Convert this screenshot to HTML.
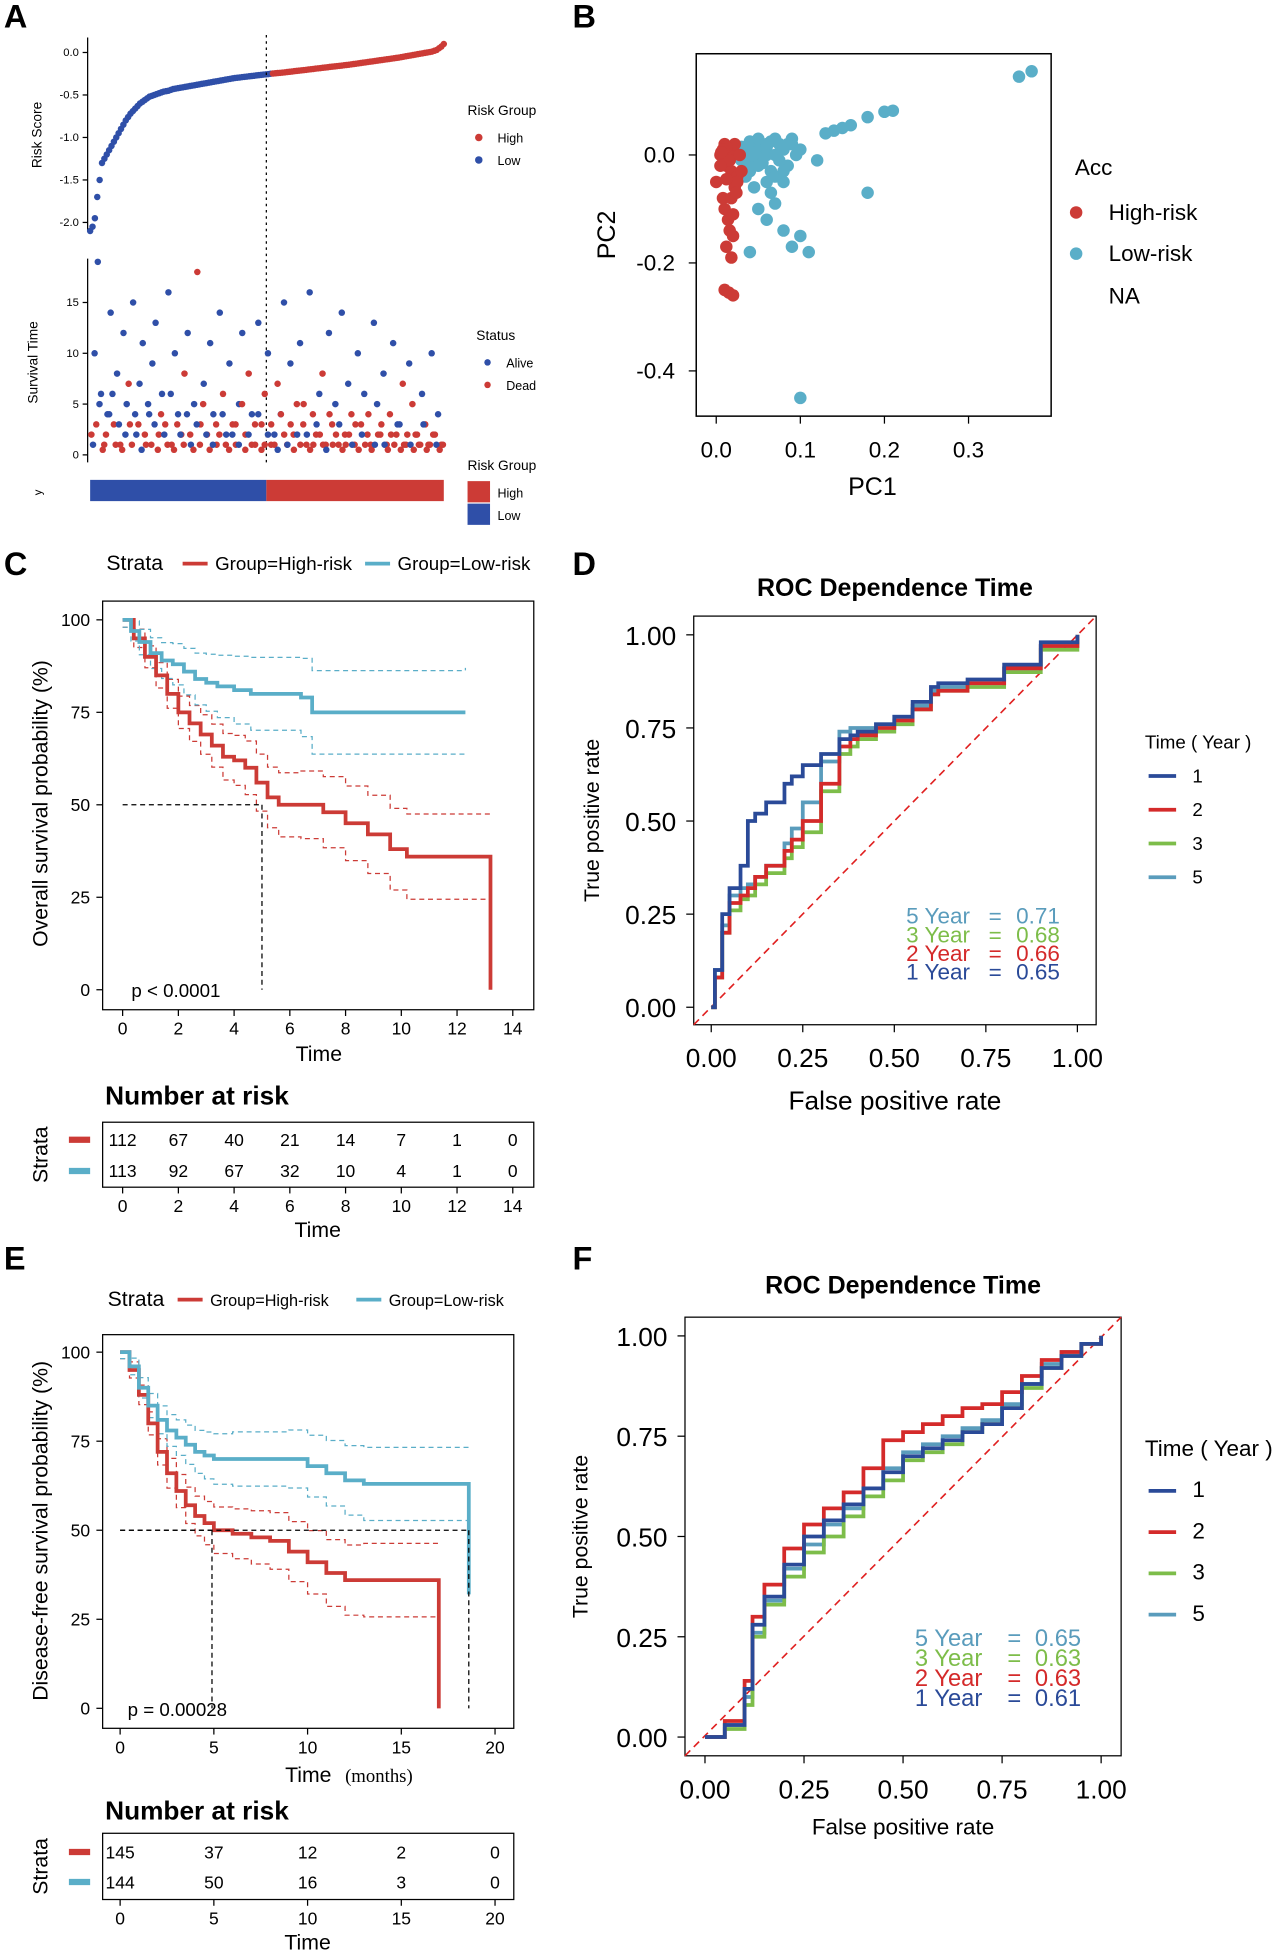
<!DOCTYPE html>
<html><head><meta charset="utf-8"><style>
html,body{margin:0;padding:0;background:#fff;}
svg{display:block;font-family:"Liberation Sans",Arial,sans-serif;}
</style></head><body>
<svg id="fig" width="1280" height="1957" viewBox="0 0 1024 1566" xmlns="http://www.w3.org/2000/svg"></svg>
<script>
// ---------- DATA ----------
const riskLow=[-2.1,-2.05,-1.95,-1.7,-1.5,-1.3,-1.25,-1.2,-1.15,-1.1,-1.05,-1.0,-0.95,-0.9,-0.85,-0.8,-0.76,-0.72,-0.69,-0.66,-0.63,-0.6,-0.58,-0.56,-0.54,-0.52,-0.51,-0.5,-0.49,-0.48,-0.47,-0.46,-0.455,-0.45,-0.44,-0.43,-0.425,-0.42,-0.415,-0.41,-0.405,-0.4,-0.395,-0.39,-0.385,-0.38,-0.375,-0.37,-0.365,-0.36,-0.355,-0.35,-0.345,-0.34,-0.335,-0.33,-0.325,-0.32,-0.315,-0.31,-0.305,-0.3,-0.297,-0.294,-0.29,-0.287,-0.284,-0.28,-0.277,-0.274,-0.27,-0.267,-0.264,-0.26,-0.257,-0.254,-0.25];
const riskHigh=[-0.248,-0.245,-0.242,-0.24,-0.237,-0.234,-0.23,-0.227,-0.224,-0.22,-0.217,-0.214,-0.21,-0.207,-0.204,-0.2,-0.197,-0.194,-0.19,-0.187,-0.184,-0.18,-0.177,-0.174,-0.17,-0.167,-0.164,-0.16,-0.157,-0.154,-0.15,-0.147,-0.144,-0.14,-0.136,-0.132,-0.128,-0.124,-0.12,-0.116,-0.112,-0.108,-0.104,-0.1,-0.096,-0.092,-0.088,-0.084,-0.08,-0.076,-0.072,-0.068,-0.064,-0.06,-0.055,-0.05,-0.045,-0.04,-0.035,-0.03,-0.025,-0.02,-0.015,-0.01,-0.005,0.0,0.005,0.01,0.02,0.03,0.05,0.07,0.1];
const survTime=[2,10,19,6,1,4,14,3,8,1,12,5,3,15,2,7,11,1,4,9,13,2,6,3,16,1,10,4,2,8,12,1,5,18,3,7,2,11,4,1,14,6,2,9,3,1,5,12,2,8,4,1,13,3,6,10,1,2,7,4,15,1,9,2,5,11,3,1,16,4,2,6,8,1,12,3,5,1,14,2,7,4,1,10,3,6,2,1,13,5,2,8,1,4,11,2,3,7,1,9,5,2,1,6,3,1,10,2,4,1];
const survTime2=[1,3,5,0.5,2,4,6,1,3,0.5,2,7,1,4,3,0.5,2,5,1,3,0.5,4,2,1,6,0.5,3,2,1,4,2,0.5,3,1,5,2,0.5,1,3,2,4,1,0.5,2,3,1,5,0.5,2,1,3,4,0.5,1,2,3,1,0.5,4,2,1,3,0.5,2,1,5,2,0.5,1,3,2,1,0.5,4,1,2,3,0.5,1,2,1,3,0.5,2,1,4,0.5,1,2,3,1,0.5,2,1,3,0.5,1,2,1,0.5,2,1,3,0.5,1,2,1,0.5,1];
const survDead=[1,0,0,0,1,0,0,1,0,1,0,0,1,0,0,0,0,1,0,0,0,1,0,1,0,1,0,0,1,1,0,0,0,1,1,0,1,0,0,1,0,1,0,0,1,1,0,0,1,1,0,1,0,1,1,0,1,0,1,0,0,1,0,1,1,0,1,1,0,1,1,0,1,1,0,1,0,1,0,1,0,1,1,0,1,0,1,1,0,0,1,0,1,1,0,1,0,1,1,0,1,1,1,0,1,1,0,1,0,1];
const survDead2=[0,1,0,1,1,0,0,1,0,1,0,1,1,0,1,0,1,0,1,0,1,1,0,1,0,1,1,0,1,0,1,1,0,1,1,0,1,0,1,1,0,1,1,0,1,0,1,1,0,1,1,0,1,1,0,1,1,0,1,1,0,1,1,0,1,1,0,1,1,0,1,1,0,1,1,1,0,1,1,1,0,1,1,0,1,1,1,0,1,1,0,1,1,1,0,1,1,1,0,1,1,1,0,1,1,1,0,1,1,1];
const pcaHighX=[0.0,0.005,0.01,0.012,0.015,0.018,0.02,0.022,0.025,0.008,0.01,0.014,0.016,0.02,0.012,0.018,0.01,0.015,0.02,0.022,0.012,0.016,0.018,0.025,0.03,0.028,0.005,0.008,0.012,0.02,0.024,0.006];
const pcaHighY=[-0.05,0.0,0.02,-0.02,0.01,-0.03,0.0,-0.06,-0.04,-0.08,-0.1,-0.12,-0.14,-0.15,-0.17,-0.19,-0.25,-0.255,-0.26,0.02,0.015,-0.01,-0.08,-0.05,-0.03,0.0,-0.02,0.01,-0.045,-0.11,-0.07,0.005];
const pcaLowX=[0.03,0.035,0.04,0.045,0.05,0.055,0.06,0.065,0.07,0.075,0.08,0.085,0.09,0.1,0.12,0.13,0.14,0.15,0.16,0.18,0.2,0.21,0.18,0.1,0.08,0.06,0.05,0.04,0.035,0.045,0.07,0.09,0.11,0.36,0.375,0.1,0.03,0.04,0.05,0.06,0.07,0.08,0.09,0.035,0.045,0.055,0.065,0.075,0.085,0.095,0.04,0.05,0.06,0.07,0.08,0.03,0.04,0.05,0.06,0.065];
const pcaLowY=[0.0,0.01,0.02,-0.01,0.02,0.01,0.0,-0.03,0.03,0.02,-0.05,-0.02,0.02,0.01,-0.01,0.04,0.045,0.05,0.055,0.07,0.08,0.082,-0.07,-0.15,-0.14,-0.12,-0.1,-0.18,-0.04,-0.06,-0.09,-0.17,-0.18,0.145,0.155,-0.45,0.015,0.0,-0.005,0.015,0.0,0.01,0.03,-0.02,0.005,-0.015,0.025,-0.01,0.02,0.0,-0.03,-0.02,-0.05,-0.04,-0.03,-0.01,0.025,0.03,0.02,-0.07];
// KM panel C
const cHighT=[0,0.4,0.8,1.2,1.6,2,2.4,2.8,3.2,3.6,4,4.4,4.8,5.2,5.6,6.4,7.2,8,8.8,9.6,10.2,13.2];
const cHighS=[100,95,90,85,80,75,72,69,66,63,62,60,56,52,50,50,48,45,42,38,36,36];
const cLowT=[0,0.3,0.6,1,1.4,1.8,2.2,2.6,3,3.4,4,4.6,6.4,6.8,12.3];
const cLowS=[100,97,94,91,89,88,86,84,83,82,81,80,79,75,75];
// KM panel E
const eHighT=[0,0.5,1,1.5,2,2.5,3,3.5,4,4.5,5,6,7,8,9,10,11,12,13,17];
const eHighS=[100,95,88,80,72,66,61,57,54,52,50,49,48,47,44,41,38,36,36,36];
const eLowT=[0,0.5,1,1.5,2,2.5,3,3.5,4,4.5,5,6,9,10,11,12,13,18.6];
const eLowS=[100,96,90,85,81,78,76,74,72,71,70,70,70,68,66,64,63,63];
// ROC panel D
const dFpr=[0,0.01,0.03,0.05,0.08,0.1,0.12,0.15,0.2,0.22,0.25,0.3,0.35,0.38,0.4,0.45,0.5,0.55,0.6,0.62,0.7,0.8,0.9,1];
const d1=[0,0.1,0.25,0.32,0.38,0.5,0.52,0.55,0.6,0.62,0.65,0.68,0.72,0.73,0.74,0.76,0.78,0.82,0.86,0.87,0.88,0.92,0.98,1];
const d2=[0,0.08,0.2,0.28,0.3,0.32,0.35,0.38,0.42,0.45,0.5,0.6,0.7,0.72,0.73,0.75,0.77,0.8,0.84,0.85,0.87,0.91,0.97,1];
const d3=[0,0.08,0.2,0.26,0.29,0.3,0.33,0.36,0.4,0.43,0.47,0.58,0.68,0.7,0.72,0.74,0.76,0.8,0.84,0.85,0.86,0.9,0.96,1];
const d5=[0,0.1,0.22,0.3,0.32,0.33,0.35,0.38,0.44,0.48,0.55,0.66,0.74,0.75,0.75,0.76,0.78,0.81,0.85,0.86,0.87,0.91,0.97,1];
// ROC panel F
const fFpr=[0,0.05,0.1,0.12,0.15,0.2,0.25,0.3,0.35,0.4,0.45,0.5,0.55,0.6,0.65,0.7,0.75,0.8,0.85,0.9,0.95,1];
const f1=[0,0.03,0.12,0.28,0.35,0.43,0.5,0.54,0.58,0.62,0.66,0.7,0.72,0.74,0.76,0.78,0.82,0.88,0.92,0.95,0.98,1];
const f2=[0,0.04,0.14,0.3,0.38,0.47,0.53,0.57,0.61,0.67,0.74,0.76,0.78,0.8,0.82,0.83,0.86,0.9,0.94,0.96,0.98,1];
const f3=[0,0.02,0.08,0.25,0.33,0.4,0.46,0.5,0.55,0.6,0.64,0.69,0.71,0.73,0.76,0.78,0.82,0.87,0.92,0.95,0.98,1];
const f5=[0,0.03,0.1,0.26,0.34,0.42,0.48,0.53,0.57,0.62,0.67,0.71,0.73,0.75,0.77,0.79,0.83,0.88,0.93,0.96,0.98,1];
const cRiskHigh=["112","67","40","21","14","7","1","0"];
const cRiskLow=["113","92","67","32","10","4","1","0"];
const eRiskHigh=["145","37","12","2","0"];
const eRiskLow=["144","50","16","3","0"];

// ---------- HELPERS ----------
const NS="http://www.w3.org/2000/svg";
const svg=document.getElementById('fig');
function el(tag,attrs,parent){const e=document.createElementNS(NS,tag);for(const k in attrs)e.setAttribute(k,attrs[k]);(parent||svg).appendChild(e);return e;}
function txt(x,y,s,size,opts){opts=opts||{};const t=el('text',{x:x,y:y,'font-size':size,fill:opts.fill||'#000','text-anchor':opts.anchor||'start'});
 if(opts.weight)t.setAttribute('font-weight',opts.weight);
 if(opts.rot)t.setAttribute('transform','rotate(-90 '+x+' '+y+')');
 if(opts.family)t.setAttribute('font-family',opts.family);
 t.textContent=s;return t;}
const RED='#cc3b36', BLUE='#2f4fa8', CYAN='#5aaec8';

[['A',3,22],['B',458,22],['C',3,460],['D',458,460],['E',3,1016],['F',458,1016]].forEach(p=>{const t=txt(p[1],p[2],p[0],26,{weight:'bold'});

});

// ---------- PANEL A ----------
(function(){
 const g=el('g',{});
 
 
 const ys=v=>42+(-v)*68;
 el('line',{x1:70,y1:30,x2:70,y2:185,stroke:'#000'},g);
 [0,-0.5,-1,-1.5,-2].forEach(v=>{el('line',{x1:66,y1:ys(v),x2:70,y2:ys(v),stroke:'#000'},g);
  txt(63,ys(v)+3,v.toFixed(1),9,{anchor:'end'});});
 txt(33,108,'Risk Score',11,{rot:1,anchor:'middle'});
 const all=riskLow.concat(riskHigh),n=all.length;
 all.forEach((v,i)=>{const c=el('circle',{cx:72+i*(283/(n-1)),cy:ys(v),r:2.6,fill:i<riskLow.length?BLUE:RED},g);
  
  });
 el('line',{x1:213,y1:28,x2:213,y2:372,stroke:'#000','stroke-dasharray':'2,3'},g);
 txt(374,92,'Risk Group',11);
 el('circle',{cx:383,cy:110,r:3,fill:RED});txt(398,114,'High',10);
 el('circle',{cx:383,cy:128,r:3,fill:BLUE});txt(398,132,'Low',10);
 const g2=el('g',{});
 
 
 const ty=v=>364-v*8.13;
 el('line',{x1:70,y1:207,x2:70,y2:370,stroke:'#000'},g2);
 [0,5,10,15].forEach(v=>{el('line',{x1:66,y1:ty(v),x2:70,y2:ty(v),stroke:'#000'},g2);txt(63,ty(v)+3,String(v),9,{anchor:'end'});});
 txt(30,290,'Survival Time',11,{rot:1,anchor:'middle'});
 [[survTime,survDead,0],[survTime2,survDead2,1.3]].forEach(set=>{
  const m=set[0].length;
  set[0].forEach((v,i)=>{const c=el('circle',{cx:73+set[2]+i*(280/(m-1)),cy:ty(v),r:2.6,fill:set[1][i]?RED:BLUE},g2);
   
   });
 });
 txt(381,272,'Status',11);
 el('circle',{cx:390,cy:290,r:2.6,fill:BLUE});txt(405,294,'Alive',10);
 el('circle',{cx:390,cy:308,r:2.6,fill:RED});txt(405,312,'Dead',10);
 const hb=el('rect',{x:72,y:384,width:141,height:17,fill:BLUE});
 
 
 const hb2=el('rect',{x:213,y:384,width:142,height:17,fill:RED});
 
 
 txt(33,394,'y',9,{rot:1,anchor:'middle'});
 txt(374,376,'Risk Group',11);
 el('rect',{x:374,y:385,width:18,height:17,fill:RED});txt(398,398,'High',10);
 el('rect',{x:374,y:403,width:18,height:17,fill:BLUE});txt(398,416,'Low',10);
})();

// ---------- PANEL B ----------
(function(){
 const g=el('g',{});
 
 
 const X=v=>573+v*673, Y=v=>124-v*432;
 el('rect',{x:557,y:43,width:284,height:290,fill:'none',stroke:'#000','stroke-width':1.2},g);
 [0,0.1,0.2,0.3].forEach(v=>{el('line',{x1:X(v),y1:333,x2:X(v),y2:339,stroke:'#000'},g);txt(X(v),366,v.toFixed(1),18,{anchor:'middle'});});
 [0,-0.2,-0.4].forEach(v=>{el('line',{x1:551,y1:Y(v),x2:557,y2:Y(v),stroke:'#000'},g);txt(540,Y(v)+6,v.toFixed(1),18,{anchor:'end'});});
 txt(698,396,'PC1',20,{anchor:'middle'});
 txt(492,188,'PC2',20,{rot:1,anchor:'middle'});
 pcaLowX.forEach((v,i)=>{const c=el('circle',{cx:X(v),cy:Y(pcaLowY[i]),r:5,fill:CYAN},g);
  
  });
 pcaHighX.forEach((v,i)=>{const c=el('circle',{cx:X(v),cy:Y(pcaHighY[i]),r:5,fill:RED},g);
  
  });
 txt(860,140,'Acc',18);
 el('circle',{cx:861,cy:170,r:5,fill:RED});txt(887,176,'High-risk',18);
 el('circle',{cx:861,cy:203,r:5,fill:CYAN});txt(887,209,'Low-risk',18);
 txt(887,243,'NA',18);
})();

// ---------- KM helper ----------
function stepPath(T,S,X,Y){let d='M'+X(T[0])+','+Y(S[0]);for(let i=1;i<T.length;i++){d+=' H'+X(T[i])+' V'+Y(S[i]);}return d;}
function km(cfg){
 const g=el('g',{});
 
 
 const b=cfg.box;
 const X=t=>cfg.x0+t*cfg.xs, Y=s=>cfg.y100+(100-s)*cfg.ys;
 el('rect',{x:b[0],y:b[1],width:b[2]-b[0],height:b[3]-b[1],fill:'none',stroke:'#000'},g);
 cfg.xt.forEach(v=>{el('line',{x1:X(v),y1:b[3],x2:X(v),y2:b[3]+5,stroke:'#000'},g);txt(X(v),b[3]+20,String(v),14,{anchor:'middle'});});
 [0,25,50,75,100].forEach(v=>{el('line',{x1:b[0]-5,y1:Y(v),x2:b[0],y2:Y(v),stroke:'#000'},g);txt(b[0]-10,Y(v)+5,String(v),14,{anchor:'end'});});
 [[cfg.hT,cfg.hS,RED],[cfg.lT,cfg.lS,CYAN]].forEach(a=>{
  [cfg.ci,-cfg.ci].forEach(off=>{const S=a[1].map((s,i)=>Math.max(0,Math.min(100,s+off*(i/(a[1].length-1)+0.2))));
   const p=el('path',{d:stepPath(a[0],S,X,Y),fill:'none',stroke:a[2],'stroke-dasharray':'4,3','stroke-width':1},g);
   
   });
 });
 const ph=el('path',{d:stepPath(cfg.hT,cfg.hS,X,Y)+(cfg.hDrop?' V'+Y(0):''),fill:'none',stroke:RED,'stroke-width':3},g);
 
 
 const pl=el('path',{d:stepPath(cfg.lT,cfg.lS,X,Y)+(cfg.lDrop?' V'+Y(cfg.lDrop):''),fill:'none',stroke:CYAN,'stroke-width':3},g);
 
 
 cfg.med.forEach(m=>{el('line',{x1:X(0),y1:Y(50),x2:X(m),y2:Y(50),stroke:'#000','stroke-dasharray':'4,3'},g);
  el('line',{x1:X(m),y1:Y(50),x2:X(m),y2:Y(0),stroke:'#000','stroke-dasharray':'4,3'},g);});
 txt(cfg.pText[0],cfg.pText[1],cfg.pText[2],15);
 txt(cfg.ylab[0],cfg.ylab[1],cfg.ylab[2],17,{rot:1,anchor:'middle'});
 const L=cfg.leg;
 txt(L[0],L[1],'Strata',17);
 el('line',{x1:L[2],y1:L[1]-5,x2:L[2]+20,y2:L[1]-5,stroke:RED,'stroke-width':3});
 txt(L[2]+26,L[1],'Group=High-risk',L[4]);
 el('line',{x1:L[3],y1:L[1]-5,x2:L[3]+20,y2:L[1]-5,stroke:CYAN,'stroke-width':3});
 txt(L[3]+26,L[1],'Group=Low-risk',L[4]);
 const R=cfg.rt;
 txt(b[0]+2,R.title,'Number at risk',21,{weight:'bold'});
 el('rect',{x:b[0],y:R.top,width:b[2]-b[0],height:R.bot-R.top,fill:'none',stroke:'#000'});
 const rows=[[cfg.rH,R.r1,RED],[cfg.rL,R.r2,CYAN]];
 rows.forEach(r=>{el('line',{x1:55,y1:r[1]-5,x2:72,y2:r[1]-5,stroke:r[2],'stroke-width':5});
  r[0].forEach((s,i)=>{const t=txt(X(cfg.xt[i]),r[1],s,14,{anchor:'middle'});
   
   });});
 txt(38,(R.top+R.bot)/2,'Strata',17,{rot:1,anchor:'middle'});
 cfg.xt.forEach(v=>{el('line',{x1:X(v),y1:R.bot,x2:X(v),y2:R.bot+5,stroke:'#000'});txt(X(v),R.bot+20,String(v),14,{anchor:'middle'});});
 txt(X(cfg.xt[cfg.xt.length-1]/2),R.bot+40,'Time',17,{anchor:'middle'});
}
km({name:'km-overall-survival',box:[82,481,427,808],x0:98,xs:22.3,y100:496,ys:2.96,xt:[0,2,4,6,8,10,12,14],
 hT:cHighT,hS:cHighS,lT:cLowT,lS:cLowS,hDrop:true,ci:10,med:[5],pText:[105,798,'p < 0.0001'],
 ylab:[38,643,'Overall survival probability (%)'],leg:[85,456,146,292,15],
 rH:cRiskHigh,rL:cRiskLow,rt:{title:884,top:898,bot:950,r1:917,r2:942}});
txt(255,849,'Time',17,{anchor:'middle'});
km({name:'km-disease-free-survival',box:[82,1068,411,1383],x0:96,xs:15,y100:1082,ys:2.85,xt:[0,5,10,15,20],
 hT:eHighT,hS:eHighS,lT:eLowT,lS:eLowS,hDrop:true,lDrop:32,ci:9,med:[4.9,18.6],pText:[102,1373,'p = 0.00028'],
 ylab:[38,1225,'Disease-free survival probability (%)'],leg:[86,1045,142,285,13],
 rH:eRiskHigh,rL:eRiskLow,rt:{title:1456,top:1467,bot:1520,r1:1487,r2:1511}});
txt(228,1426,'Time',17);
txt(276,1426,'(months)',15,{family:'"Liberation Serif",serif'});

// ---------- ROC ----------
function roc(cfg){
 const g=el('g',{});
 
 
 const b=cfg.box, X=v=>cfg.x0+v*(cfg.x1-cfg.x0), Y=v=>cfg.y0-v*(cfg.y0-cfg.y1);
 el('rect',{x:b[0],y:b[1],width:b[2]-b[0],height:b[3]-b[1],fill:'none',stroke:'#000'},g);
 [0,0.25,0.5,0.75,1].forEach(v=>{el('line',{x1:X(v),y1:b[3],x2:X(v),y2:b[3]+6,stroke:'#000'},g);txt(X(v),b[3]+34,v.toFixed(2),21,{anchor:'middle'});
  el('line',{x1:b[0]-6,y1:Y(v),x2:b[0],y2:Y(v),stroke:'#000'},g);txt(b[0]-14,Y(v)+8,v.toFixed(2),21,{anchor:'end'});});
 el('line',{x1:b[0],y1:b[3],x2:b[2],y2:b[1],stroke:'#e02020','stroke-dasharray':'6,4','stroke-width':1.3},g);
 const cols=['#2a4a98','#d42a2a','#7dbd4a','#5a9cbc'];
 const ser=[cfg.s1,cfg.s2,cfg.s3,cfg.s5];
 [3,2,1,0].forEach(k=>{let d='M'+X(cfg.fpr[0])+','+Y(ser[k][0]);for(let i=1;i<cfg.fpr.length;i++)d+=' H'+X(cfg.fpr[i])+' V'+Y(ser[k][i]);
  const p=el('path',{d:d,fill:'none',stroke:cols[k],'stroke-width':3},g);
  
  });
 txt((b[0]+b[2])/2,cfg.title,'ROC Dependence Time',20,{anchor:'middle',weight:'bold'});
 txt((b[0]+b[2])/2,b[3]+cfg.xl,'False positive rate',cfg.xls,{anchor:'middle'});
 txt(cfg.yl,(b[1]+b[3])/2,'True positive rate',17,{rot:1,anchor:'middle'});
 const A=cfg.auc, labs=[['5 Year',3],['3 Year',2],['2 Year',1],['1 Year',0]];
 labs.forEach((l,i)=>{const y=A[1]+i*A[3];txt(A[0],y,l[0],A[2],{fill:cols[l[1]]});txt(A[0]+A[4],y,'=',A[2],{fill:cols[l[1]]});txt(A[0]+A[4]+22,y,cfg.aucv[i],A[2],{fill:cols[l[1]]});});
 const L=cfg.leg;
 txt(L[0],L[1],'Time ( Year )',L[3]);
 ['1','2','3','5'].forEach((s,i)=>{const y=L[1]+L[2]*(i+1);el('line',{x1:L[0]+3,y1:y-5,x2:L[0]+25,y2:y-5,stroke:cols[i],'stroke-width':3});txt(L[0]+38,y,s,L[3]);});
}
roc({name:'roc-overall',box:[555,493,877,820],x0:569,x1:862,y0:806,y1:508,fpr:dFpr,s1:d1,s2:d2,s3:d3,s5:d5,title:477,xl:68,xls:21,yl:479,
 auc:[725,739,18,15,66],aucv:['0.71','0.68','0.66','0.65'],leg:[916,599,27,15]});
roc({name:'roc-disease-free',box:[548,1054,897,1405],x0:564,x1:881,y0:1390,y1:1069,fpr:fFpr,s1:f1,s2:f2,s3:f3,s5:f5,title:1035,xl:63,xls:18,yl:470,
 auc:[732,1317,19,16,74],aucv:['0.65','0.63','0.63','0.61'],leg:[916,1165,33,18]});
</script>
</body></html>
